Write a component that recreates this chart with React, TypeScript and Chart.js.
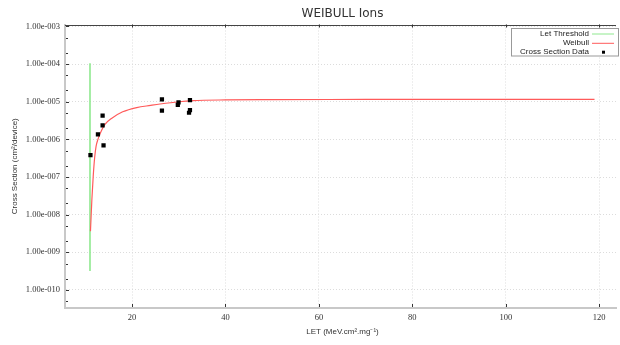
import React, { useEffect, useRef } from "react";
import { Chart, registerables } from "chart.js";

Chart.register(...registerables);

// ---- Data ----
const thresholdX = [11.0, 11.0];
const thresholdY = [3.2e-10, 1.05e-4];

const weibullX = [11.1, 11.4, 11.7, 12.0, 12.3, 12.7, 13.2, 14.2, 15.6, 18.0, 21.0, 24.0, 26.0, 30.0, 33.0, 40.0, 50.0, 70.0, 90.0, 119.0];
const weibullY = [3.6e-9, 2.5e-8, 1.1e-7, 3.3e-7, 6.5e-7, 1.0e-6, 1.45e-6, 2.5e-6, 3.6e-6, 5.4e-6, 7.0e-6, 8.0e-6, 8.7e-6, 1.0e-5, 1.07e-5, 1.12e-5, 1.14e-5, 1.15e-5, 1.155e-5, 1.16e-5];

const crossX = [11.1, 12.7, 13.7, 13.7, 13.9, 26.4, 26.4, 29.8, 29.95, 32.4, 32.4, 32.2];
const crossY = [3.8e-7, 1.35e-6, 2.35e-6, 4.3e-6, 6.9e-7, 1.16e-5, 5.8e-6, 8.2e-6, 9.6e-6, 1.1e-5, 6.0e-6, 5.1e-6];

const xTickValues = [20, 40, 60, 80, 100, 120];
const yTickValues = [1e-10, 1e-9, 1e-8, 1e-7, 1e-6, 1e-5, 1e-4, 1e-3];
const yTickLabels = ["1.00e-010", "1.00e-009", "1.00e-008", "1.00e-007", "1.00e-006", "1.00e-005", "1.00e-004", "1.00e-003"];

const titleText = "WEIBULL Ions";
const xTitle = "LET (MeV.cm\u00B2.mg\u207B\u00B9)";
const yTitle = "Cross Section (cm\u00B2/device)";
const legendLabels = ["Let Threshold", "Weibull", "Cross Section Data"];

const GREEN = "#8fe88f";
const RED = "#ff5a5a";
const BLACK = "#000000";

const SANS = "'Liberation Sans', Arial, sans-serif";
const SERIF = "'Liberation Serif', 'Times New Roman', serif";

const zip = (xs: number[], ys: number[]) => xs.map((x, i) => ({ x, y: ys[i] }));

const decorPlugin = {
  id: "decor",
  afterDraw(chart: any) {
    const { ctx, chartArea } = chart;
    const { left, right, top, bottom } = chartArea;
    const xs = chart.scales.x;
    const ys = chart.scales.y;
    ctx.save();

    // top frame line
    ctx.strokeStyle = "#444";
    ctx.lineWidth = 1;
    ctx.beginPath();
    ctx.moveTo(left, Math.round(top) + 0.5);
    ctx.lineTo(right, Math.round(top) + 0.5);
    ctx.stroke();

    // inward ticks
    ctx.strokeStyle = "#333";
    ctx.lineWidth = 1;
    ctx.beginPath();
    yTickValues.forEach((v) => {
      const py = Math.round(ys.getPixelForValue(v)) + 0.5;
      ctx.moveTo(left + 1, py);
      ctx.lineTo(left + 4, py);
      [2, 5].forEach((m) => {
        const mv = v * m;
        if (mv < ys.max && mv > ys.min) {
          const pm = Math.round(ys.getPixelForValue(mv)) + 0.5;
          ctx.moveTo(left + 1, pm);
          ctx.lineTo(left + 3, pm);
        }
      });
    });
    const minorBelow = yTickValues[0] / 2;
    if (minorBelow > ys.min) {
      const pm = Math.round(ys.getPixelForValue(minorBelow)) + 0.5;
      ctx.moveTo(left + 1, pm);
      ctx.lineTo(left + 3, pm);
    }
    xTickValues.forEach((v) => {
      const px = Math.round(xs.getPixelForValue(v)) + 0.5;
      ctx.moveTo(px, bottom - 1);
      ctx.lineTo(px, bottom - 4);
      ctx.moveTo(px, top);
      ctx.lineTo(px, top + 3);
    });
    ctx.stroke();

    // title
    ctx.fillStyle = "#333";
    ctx.font = `12px 'DejaVu Sans', sans-serif`;
    ctx.textAlign = "center";
    ctx.textBaseline = "middle";
    ctx.fillText(titleText, (left + right) / 2 + 2, 13.5);

    // axis titles
    ctx.font = `8px ${SANS}`;
    ctx.fillStyle = "#333";
    ctx.fillText(xTitle, (left + right) / 2 + 2, 332);
    ctx.save();
    ctx.translate(15, (top + bottom) / 2);
    ctx.rotate(-Math.PI / 2);
    ctx.fillText(yTitle, 0, 0);
    ctx.restore();

    // legend box
    const bx = 511.5, by = 28.5, bw = 107, bh = 27.5;
    ctx.fillStyle = "#fff";
    ctx.fillRect(bx, by, bw, bh);
    ctx.strokeStyle = "#999";
    ctx.lineWidth = 1;
    ctx.strokeRect(bx, by, bw, bh);
    const rows = [33.5, 42.8, 52.2];
    ctx.font = `8px ${SANS}`;
    ctx.textAlign = "right";
    ctx.textBaseline = "middle";
    ctx.fillStyle = "#222";
    legendLabels.forEach((t, i) => ctx.fillText(t, 589, rows[i]));
    ctx.lineWidth = 1;
    ctx.strokeStyle = GREEN;
    ctx.beginPath();
    ctx.moveTo(592, rows[0] + 0.5);
    ctx.lineTo(614, rows[0] + 0.5);
    ctx.stroke();
    ctx.strokeStyle = RED;
    ctx.beginPath();
    ctx.moveTo(592, rows[1] + 0.5);
    ctx.lineTo(614, rows[1] + 0.5);
    ctx.stroke();
    ctx.fillStyle = BLACK;
    ctx.fillRect(602, rows[2] - 1.5, 3, 3);

    ctx.restore();
  },
};

export default function App() {
  const ref = useRef<HTMLCanvasElement | null>(null);

  useEffect(() => {
    if (!ref.current) return;
    const chart = new Chart(ref.current, {
      type: "scatter",
      data: {
        datasets: [
          {
            label: legendLabels[2],
            data: zip(crossX, crossY),
            pointStyle: "rect",
            pointRadius: 3,
            pointBorderWidth: 0,
            backgroundColor: BLACK,
            borderColor: BLACK,
            showLine: false,
            order: 0,
          },
          {
            label: legendLabels[1],
            data: zip(weibullX, weibullY),
            showLine: true,
            borderColor: RED,
            borderWidth: 1.2,
            pointRadius: 0,
            cubicInterpolationMode: "monotone",
            order: 1,
          },
          {
            label: legendLabels[0],
            data: zip(thresholdX, thresholdY),
            showLine: true,
            borderColor: GREEN,
            borderWidth: 1.6,
            pointRadius: 0,
            order: 2,
          },
        ] as any,
      },
      options: {
        animation: false,
        responsive: true,
        maintainAspectRatio: false,
        layout: { padding: { top: 24.5, left: 0, right: 0, bottom: 0 } },
        plugins: {
          legend: { display: false },
          title: { display: false },
          tooltip: { enabled: false },
        },
        scales: {
          x: {
            type: "linear",
            bounds: "data",
            min: 5.65,
            max: 123.6,
            afterBuildTicks: (axis: any) => {
              axis.ticks = xTickValues.map((v) => ({ value: v }));
            },
            afterFit: (axis: any) => {
              axis.height = 37;
            },
            ticks: {
              padding: 5,
              maxRotation: 0,
              autoSkip: false,
              color: "#333",
              font: { family: SERIF, size: 8.5 },
              callback: (v: any) => String(v),
            },
            grid: {
              color: "#dcdcdc",
              lineWidth: 1,
              drawTicks: false,
            },
            border: { display: true, color: "#c8c8c8", width: 2, dash: [1, 2] },
          },
          y: {
            type: "logarithmic",
            min: 3.3e-11,
            max: 1.13e-3,
            afterBuildTicks: (axis: any) => {
              axis.ticks = yTickValues.map((v) => ({ value: v }));
            },
            afterFit: (axis: any) => {
              axis.width = 65;
            },
            ticks: {
              padding: 5,
              autoSkip: false,
              color: "#333",
              font: { family: SERIF, size: 8.5 },
              callback: (v: any) => {
                const i = yTickValues.findIndex((t) => Math.abs(Math.log10(t) - Math.log10(v)) < 1e-6);
                return i >= 0 ? yTickLabels[i] : "";
              },
            },
            grid: {
              color: "#dcdcdc",
              lineWidth: 1,
              drawTicks: false,
            },
            border: { display: true, color: "#c8c8c8", width: 2, dash: [1, 2] },
          },
        },
      },
      plugins: [decorPlugin],
    } as any);
    return () => chart.destroy();
  }, []);

  return (
    <div style={{ position: "absolute", left: 0, top: 0, width: 620, height: 345, background: "#fff" }}>
      <canvas ref={ref} />
    </div>
  );
}
